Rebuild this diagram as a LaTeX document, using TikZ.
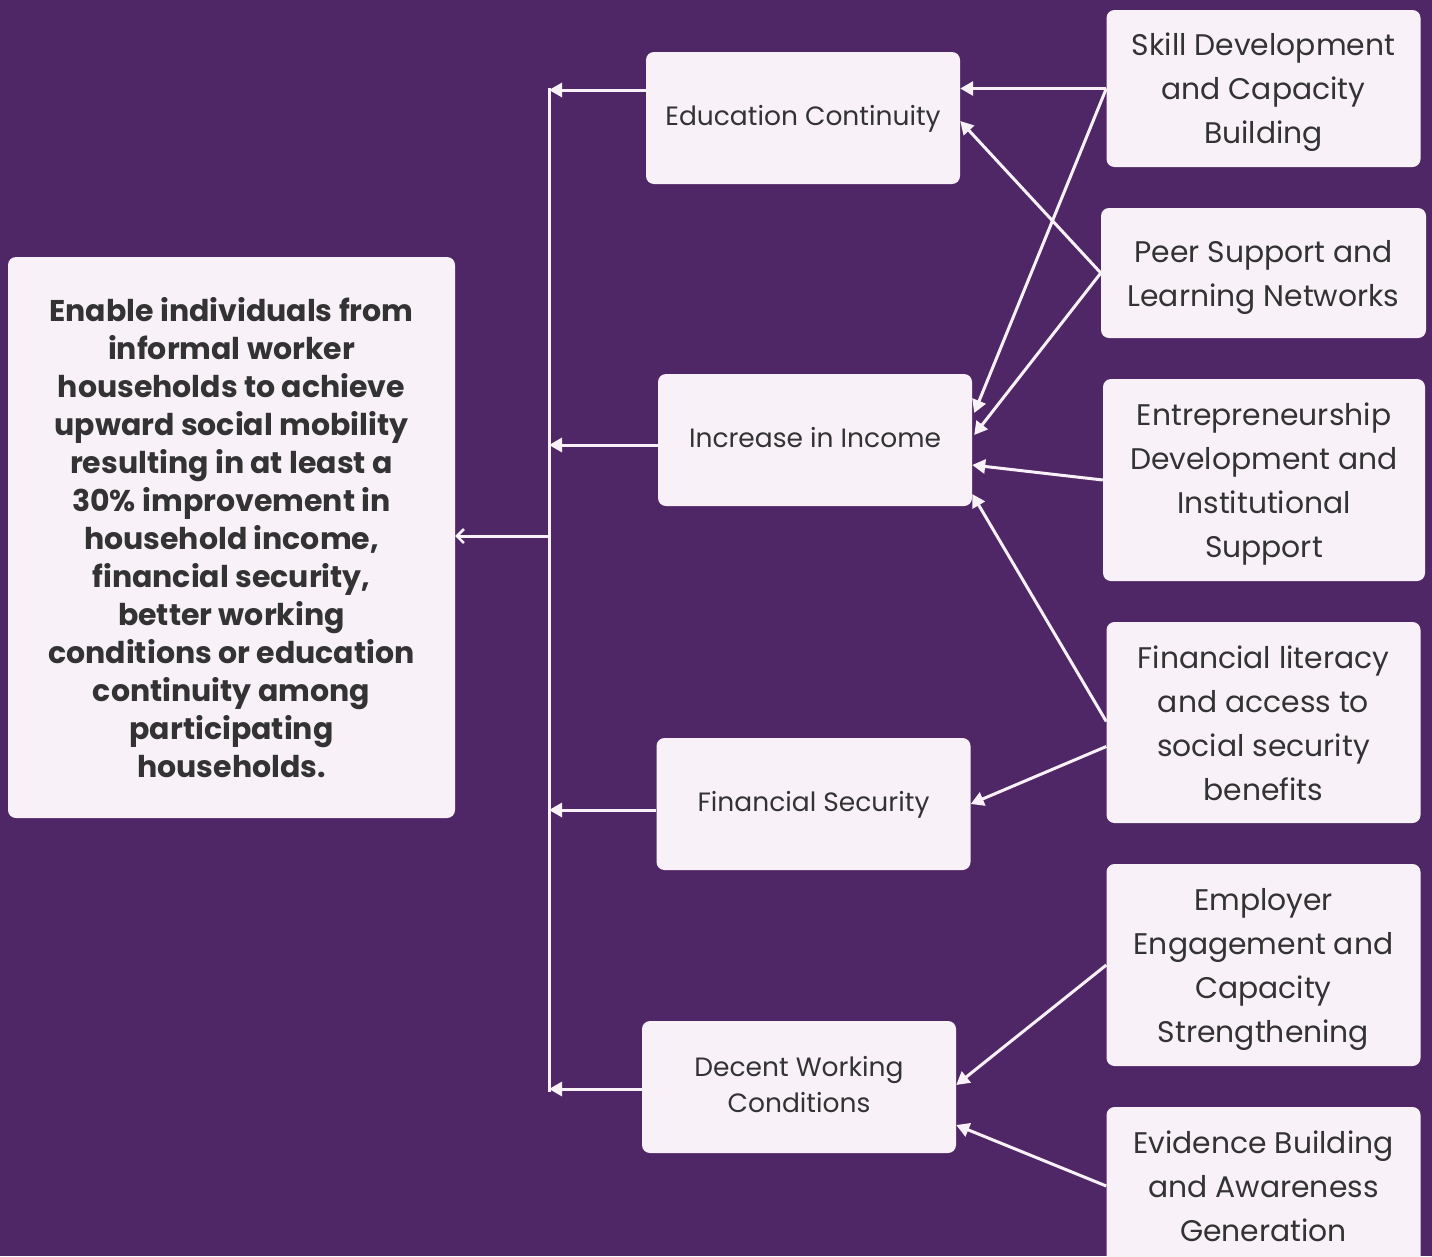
\documentclass[tikz,border=0pt]{standalone}
\usepackage{fontspec}
\setmainfont{Poppins}
\usetikzlibrary{arrows.meta,calc}
\definecolor{bg}{HTML}{502766}
\definecolor{boxfill}{HTML}{F8F2F8}
\definecolor{txt}{HTML}{333333}
\definecolor{ln}{HTML}{F8F2F8}
\newcommand\srctop{\rule{0pt}{31pt}}
\newcommand\srcbot{\rule[-8pt]{0pt}{8pt}}
\newcommand\midtop{\rule{0pt}{25pt}}
\newcommand\midbot{\rule[-10pt]{0pt}{10pt}}
\tikzset{
  box/.style={fill=boxfill, rounded corners=8pt, text=txt, align=center, inner sep=0pt},
  goalbox/.style={box, minimum width=447pt, minimum height=561pt, font=\fontsize{30}{38}\selectfont\bfseries},
  midbox/.style={box, minimum width=314pt, minimum height=132pt, font=\fontsize{26.5}{36}\selectfont},
  srcbox/.style={box, minimum width=314pt, font=\fontsize{29.8}{44}\selectfont},
  arr/.style={draw=ln, line width=3pt, -{Triangle[width=14pt,length=13pt]}},
  openarr/.style={draw=ln, line width=3pt, -{Straight Barb[width=14pt,length=7pt,line width=2.5pt]}},
  plain/.style={draw=ln, line width=3pt}
}
\begin{document}
\begin{tikzpicture}[x=1pt,y=-1pt]
\fill[bg] (0,0) rectangle (1432,1256);
\useasboundingbox (0,0) rectangle (1432,1256);
\begin{scope}
\clip (0,0) rectangle (1432,1256);
% goal
\node[goalbox] (goal) at (231.5,537.5) {Enable individuals from\\informal worker\\households to achieve\\upward social mobility\\resulting in at least a\\30\% improvement in\\household income,\\financial security,\\better working\\conditions or education\\continuity among\\participating\\households.};
% middle
\node[midbox] (edu) at (803,118) {\midtop Education Continuity\midbot};
\node[midbox] (inc) at (815,440) {\midtop Increase in Income\midbot};
\node[midbox] (fin) at (813.5,804) {\midtop Financial Security\midbot};
\node[midbox] (dec) at (799,1087) {\midtop Decent Working\\Conditions\midbot};
% sources
\node[srcbox, minimum height=157pt] (skill) at (1263.5,88.5) {\srctop Skill Development\\and Capacity\\Building\srcbot};
\node[srcbox, minimum width=325pt, minimum height=130pt] (peer) at (1263.5,273) {\srctop Peer Support and\\Learning Networks\srcbot};
\node[srcbox, minimum width=322pt, minimum height=202pt] (ent) at (1264,480) {\srctop Entrepreneurship\\Development and\\Institutional\\Support\srcbot};
\node[srcbox, minimum height=201pt] (lit) at (1263.5,722.5) {\srctop Financial literacy\\and access to\\social security\\benefits\srcbot};
\node[srcbox, minimum height=202pt] (emp) at (1263.5,965) {\srctop Employer\\Engagement and\\Capacity\\Strengthening\srcbot};
\node[srcbox, minimum height=158pt] (evi) at (1263.5,1186) {\srctop Evidence Building\\and Awareness\\Generation\srcbot};
% spine
\coordinate (vtop) at (549,88);
\coordinate (vbot) at (549,1092);
\draw[plain] (vtop) -- (vbot);
\coordinate (vgoal) at (549,536);
\draw[openarr] (vgoal) -- (goal.east |- vgoal);
% anchor points
\coordinate (eduL) at ([yshift=28pt]edu.west);
\coordinate (incL) at ([yshift=-5pt]inc.west);
\coordinate (finL) at ([yshift=-6pt]fin.west);
\coordinate (decL) at ([yshift=-2pt]dec.west);
\coordinate (eduR2) at ([yshift=-3pt]edu.east);
\coordinate (incR1) at ([yshift=27pt,xshift=2pt]inc.east);
\coordinate (incR2) at ([yshift=5pt,xshift=2pt]inc.east);
\coordinate (incR3) at ([yshift=-25pt]inc.east);
\coordinate (incR4) at ([yshift=-54pt]inc.east);
\coordinate (decR2) at ([yshift=-38pt]dec.east);
\coordinate (decR1) at ([yshift=2pt]dec.east);
\coordinate (litA) at ([yshift=1pt]lit.west);
\coordinate (litB) at ([yshift=-24pt]lit.west);
% middle to spine
\draw[arr] (eduL) -- (vtop |- eduL);
\draw[arr] (incL) -- (vtop |- incL);
\draw[arr] (finL) -- (vtop |- finL);
\draw[arr] (decL) -- (vtop |- decL);
% sources to middle
\draw[arr] (skill.west) -- (skill.west -| edu.east);
\draw[arr] (skill.west) -- (incR1);
\draw[arr] (peer.west) -- (eduR2);
\draw[arr] (peer.west) -- (incR2);
\draw[arr] (ent.west) -- (incR3);
\draw[arr] (litA) -- (incR4);
\draw[arr] (litB) -- (fin.east);
\draw[arr] (emp.west) -- (decR1);
\draw[arr] (evi.west) -- (decR2);
\end{scope}
\end{tikzpicture}
\end{document}
